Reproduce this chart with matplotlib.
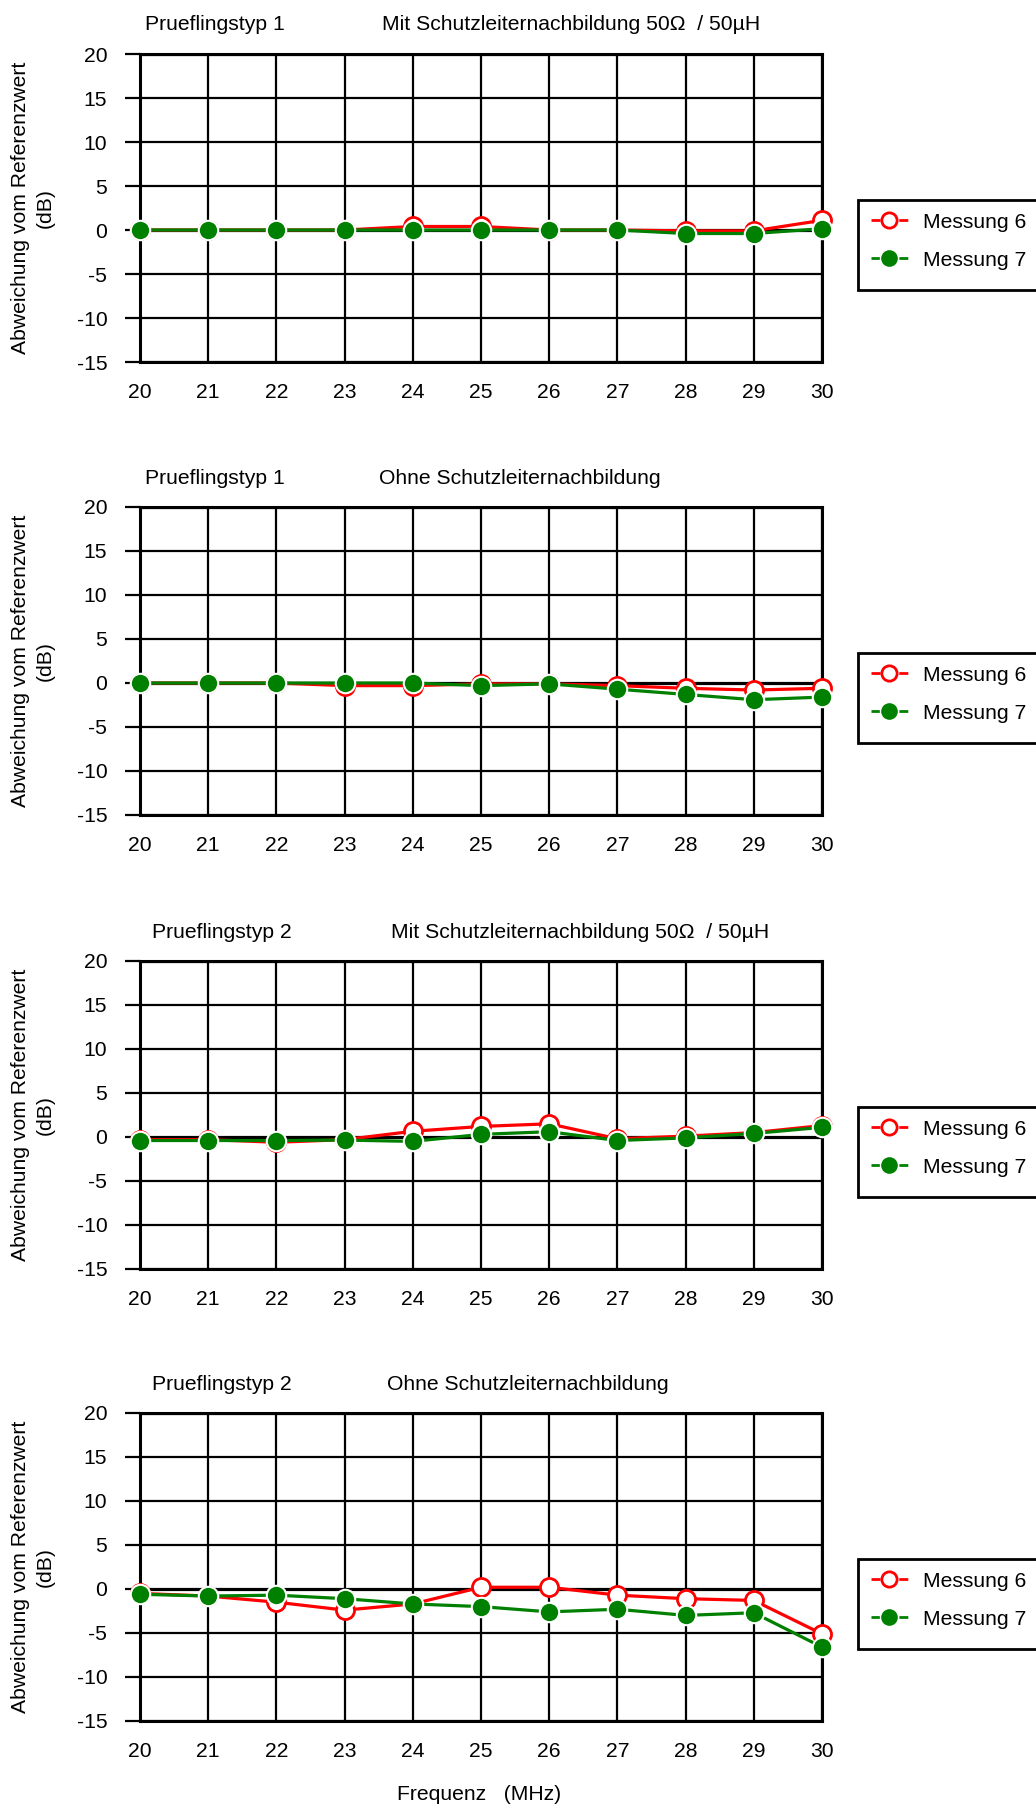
import matplotlib
matplotlib.use("Agg")
import matplotlib.pyplot as plt
from matplotlib.lines import Line2D
from matplotlib.patches import Rectangle

plt.rcParams['font.family'] = ['Liberation Sans', 'DejaVu Sans']
plt.rcParams['lines.scale_dashes'] = False

freq = [20, 21, 22, 23, 24, 25, 26, 27, 28, 29, 30]

p1_m6 = [0, 0, 0, 0, 0.4, 0.4, 0, 0, -0.1, -0.1, 1.1]
p1_m7 = [0, 0, 0, 0, 0, 0, 0, 0, -0.4, -0.4, 0.15]

p2_m6 = [0, 0, 0, -0.3, -0.3, -0.1, -0.1, -0.3, -0.6, -0.8, -0.6]
p2_m7 = [0, 0, 0, 0, 0, -0.3, -0.1, -0.7, -1.3, -1.9, -1.6]

p3_m6 = [-0.3, -0.3, -0.6, -0.3, 0.65, 1.2, 1.5, -0.2, 0.1, 0.5, 1.3]
p3_m7 = [-0.4, -0.4, -0.4, -0.35, -0.5, 0.3, 0.6, -0.4, -0.1, 0.4, 1.1]

p4_m6 = [-0.5, -0.8, -1.5, -2.4, -1.7, 0.2, 0.2, -0.7, -1.1, -1.3, -5.1]
p4_m7 = [-0.6, -0.8, -0.7, -1.1, -1.7, -2.0, -2.6, -2.3, -3.0, -2.7, -6.6]

series_names = ["Messung 6", "Messung 7"]
left_titles = ["Prueflingstyp 1", "Prueflingstyp 1", "Prueflingstyp 2", "Prueflingstyp 2"]
right_titles = ["Mit Schutzleiternachbildung 50\u03a9  / 50\u00b5H",
                "Ohne Schutzleiternachbildung",
                "Mit Schutzleiternachbildung 50\u03a9  / 50\u00b5H",
                "Ohne Schutzleiternachbildung"]
yticks = [-15, -10, -5, 0, 5, 10, 15, 20]
ylabel = "Abweichung vom Referenzwert"
ylabel2 = "(dB)"
xlabel = "Frequenz   (MHz)"

panels = [(p1_m6, p1_m7), (p2_m6, p2_m7), (p3_m6, p3_m7), (p4_m6, p4_m7)]

W, H = 1036, 1809
fig = plt.figure(figsize=(W / 100, H / 100), dpi=100)

ax_left, ax_right = 140, 822
ax_h = 308
tops = [54, 507, 961, 1413]
title_x = [(145, 382), (145, 379), (152, 391), (152, 387)]
FS = 15.2
RED = '#ff0000'
GREEN = '#008000'

for i, (m6, m7) in enumerate(panels):
    top = tops[i]
    ax = fig.add_axes([ax_left / W, 1 - (top + ax_h) / H, (ax_right - ax_left) / W, ax_h / H])
    ax.set_xlim(20, 30)
    ax.set_ylim(-15, 20)
    ax.set_xticks(freq)
    ax.set_yticks(yticks)
    ax.set_xticklabels([str(f) for f in freq])
    ax.set_yticklabels([str(v) for v in yticks])
    ax.tick_params(axis='x', length=0, pad=15, labelsize=FS)
    ax.tick_params(axis='y', length=10.5, width=1.6, direction='out', pad=13, labelsize=FS)
    for f in freq:
        ax.axvline(f, color='black', lw=1.6, zorder=1)
    for v in yticks:
        ax.axhline(v, color='black', lw=2.3 if v in (0, 20, -15) else 1.6, zorder=1)
    for s in ax.spines.values():
        s.set_linewidth(2.2)
        s.set_color('black')
    ax.plot(freq, m6, color=RED, lw=2.3, marker='o', ms=13, mfc='white',
            mec=RED, mew=2.0, zorder=3, clip_on=False)
    ax.plot(freq, m7, color=GREEN, lw=2.3, marker='o', ms=14, mfc=GREEN,
            mec='white', mew=1.5, zorder=4, clip_on=False)

    fig.text(title_x[i][0] / W, 1 - (top - 29) / H, left_titles[i], fontsize=FS, ha='left', va='center')
    fig.text(title_x[i][1] / W, 1 - (top - 29) / H, right_titles[i], fontsize=FS, ha='left', va='center')

    cy = top + ax_h / 2
    fig.text(21 / W, 1 - cy / H, ylabel, fontsize=FS, rotation=90, ha='center', va='center')
    fig.text(45 / W, 1 - cy / H, ylabel2, fontsize=FS, rotation=90, ha='center', va='center')

    # legend
    box_top = top + 146
    box_h = 90
    fig.add_artist(Rectangle((858 / W, 1 - (box_top + box_h) / H), 200 / W, box_h / H,
                             transform=fig.transFigure, facecolor='white', edgecolor='black',
                             lw=2.0, clip_on=False))
    dash = (0, (6.5, 13.5))
    h6 = (Line2D([], [], color=RED, lw=2.0, linestyle=dash),
          Line2D([], [], ls='none', marker='o', ms=11, mfc='white', mec=RED, mew=2.0))
    h7 = (Line2D([], [], color=GREEN, lw=2.0, linestyle=dash),
          Line2D([], [], ls='none', marker='o', ms=13, mfc=GREEN, mec='white', mew=1.0))
    leg = fig.legend([h6, h7], series_names, loc='upper left',
                     bbox_to_anchor=(860 / W, 1 - (box_top + 2) / H),
                     fontsize=FS, frameon=False,
                     borderpad=0.5, labelspacing=0.9, handlelength=1.75, handletextpad=0.75,
                     borderaxespad=0)

fig.text(479 / W, 1 - 1795 / H, xlabel, fontsize=FS, ha='center', va='center')

fig.savefig("out.png", dpi=100)
